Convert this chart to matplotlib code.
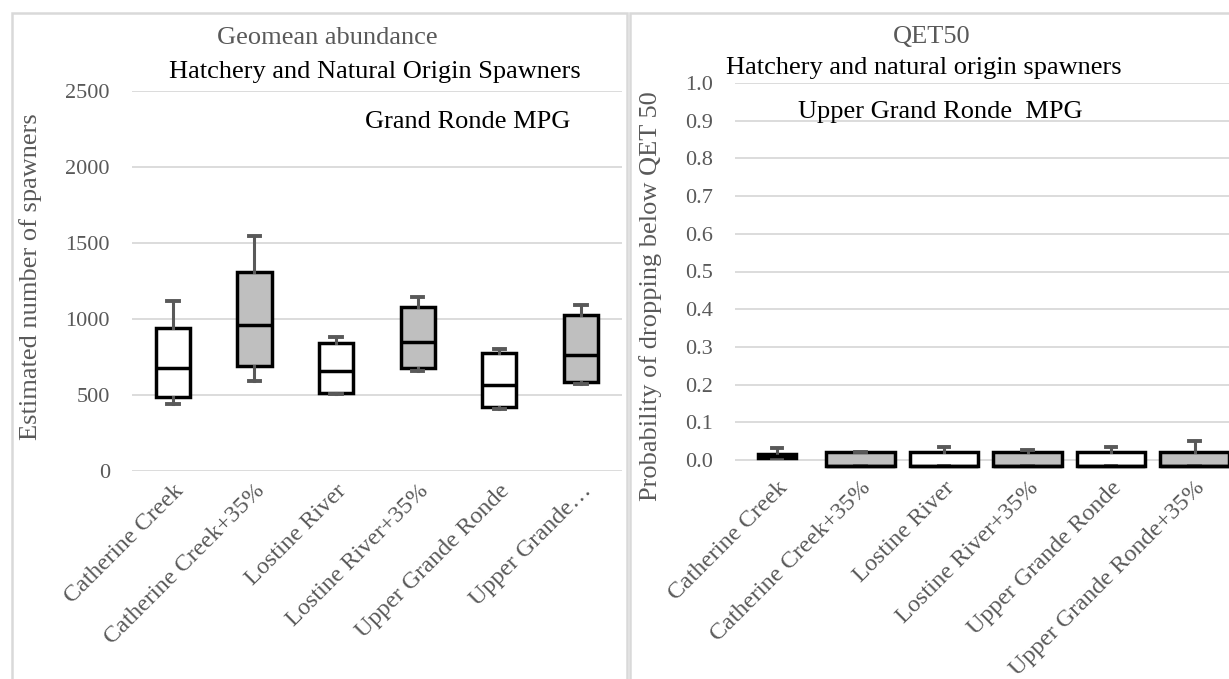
import matplotlib
matplotlib.use("Agg")
import matplotlib.pyplot as plt
from matplotlib.patches import Rectangle

# ---------------- data ----------------
categories = ["Catherine Creek", "Catherine Creek+35%", "Lostine River",
              "Lostine River+35%", "Upper Grande Ronde", "Upper Grande Ronde+35%"]
left_labels = ["Catherine Creek", "Catherine Creek+35%", "Lostine River",
               "Lostine River+35%", "Upper Grande Ronde", "Upper Grande\u2026"]

# Geomean abundance (estimated number of spawners)
abund_whislo = [443, 592, 507, 658, 406, 570]
abund_q1     = [489, 693, 515, 675, 423, 588]
abund_med    = [676, 961, 660, 847, 566, 763]
abund_q3     = [943, 1309, 840, 1077, 774, 1026]
abund_whishi = [1118, 1548, 884, 1143, 803, 1092]

# QET50 probability
qet_whislo = [0.005, -0.015, -0.015, -0.015, -0.015, -0.015]
qet_q1     = [0.005, -0.015, -0.015, -0.015, -0.015, -0.015]
qet_med    = [0.010, -0.015, -0.015, -0.015, -0.015, -0.015]
qet_q3     = [0.016, 0.022, 0.022, 0.022, 0.022, 0.022]
qet_whishi = [0.033, 0.022, 0.035, 0.027, 0.035, 0.051]

left_yticks = [0, 500, 1000, 1500, 2000, 2500]
right_yticks = [0.0, 0.1, 0.2, 0.3, 0.4, 0.5, 0.6, 0.7, 0.8, 0.9, 1.0]

# ---------------- style ----------------
W, H = 1229, 679
plt.rcParams['font.family'] = ['Liberation Serif', 'DejaVu Serif']
GRAY_TXT = '#595959'
GRID = '#d9d9d9'
fills = ['white', '#bfbfbf'] * 3
TITLE_FS = 19
TICK_FS = 16
XTICK_FS = 17.5

fig = plt.figure(figsize=(W / 100, H / 100), dpi=100)

def fx(px):
    return px / W

def fy(py):
    return 1 - py / H

# panel borders
fig.patches.append(Rectangle((fx(12), fy(700)), fx(627 - 12), (700 - 13) / H,
                             transform=fig.transFigure, fill=False,
                             edgecolor=GRID, linewidth=1.8))
fig.patches.append(Rectangle((fx(630), fy(700)), fx(700), (700 - 13) / H,
                             transform=fig.transFigure, fill=False,
                             edgecolor=GRID, linewidth=1.8))


def make_stats(lo, q1, med, q3, hi):
    return [dict(whislo=a, q1=b, med=c, q3=d, whishi=e)
            for a, b, c, d, e in zip(lo, q1, med, q3, hi)]


def style_axes(ax, yticks, fmt):
    for s in ax.spines.values():
        s.set_visible(False)
    ax.set_yticks(yticks)
    ax.set_yticklabels([fmt(v) for v in yticks], color=GRAY_TXT, fontsize=TICK_FS)
    ax.tick_params(axis='both', length=0)
    ax.grid(axis='y', color=GRID, linewidth=1.3)
    ax.set_axisbelow(True)


def draw_boxes(ax, stats, widths, capw):
    bp = ax.bxp(stats, positions=range(len(stats)), widths=widths,
                patch_artist=True, showfliers=False, manage_ticks=False,
                capwidths=capw,
                boxprops=dict(edgecolor='black', linewidth=2.5),
                medianprops=dict(color='black', linewidth=2.5),
                whiskerprops=dict(color=GRAY_TXT, linewidth=2.2),
                capprops=dict(color=GRAY_TXT, linewidth=2.8))
    for patch, c in zip(bp['boxes'], fills):
        patch.set_facecolor(c)
    for art in bp['boxes'] + bp['medians'] + bp['whiskers'] + bp['caps']:
        art.set_clip_on(False)
    return bp


# ---------------- left panel ----------------
l_left, l_right = 132, 621.7
axL = fig.add_axes([fx(l_left), fy(471), fx(l_right - l_left), (471 - 91) / H])
axL.set_ylim(0, 2500)
axL.set_xlim(-0.5, 5.5)
style_axes(axL, left_yticks, lambda v: f"{v:d}")
axL.tick_params(axis='y', pad=16)
draw_boxes(axL, make_stats(abund_whislo, abund_q1, abund_med, abund_q3, abund_whishi),
           [0.42] * 6, [0.14] * 6)
axL.set_xticks(range(6))
axL.set_xticklabels(left_labels, rotation=45, ha='right', va='top',
                    rotation_mode='anchor', color=GRAY_TXT, fontsize=XTICK_FS)
axL.tick_params(axis='x', pad=7)
axL.set_ylabel("Estimated number of spawners", color=GRAY_TXT, fontsize=TITLE_FS)
axL.yaxis.set_label_coords((42 - l_left) / (l_right - l_left), (471 - 276.5) / 380)

fig.text(fx(327.5), fy(38), "Geomean abundance", color=GRAY_TXT, fontsize=TITLE_FS,
         ha='center', va='center')
fig.text(fx(374.5), fy(72), "Hatchery and Natural Origin Spawners", color='black',
         fontsize=TITLE_FS, ha='center', va='center')
fig.text(fx(468), fy(122), "Grand Ronde MPG", color='black', fontsize=TITLE_FS,
         ha='center', va='center')

# ---------------- right panel ----------------
r_left, r_right = 735.4, 1229
y0, y1 = 460, 83.0
ppu = (y0 - y1) / 1.0
ymin = -0.02
bottom_px = y0 + (-ymin) * ppu
axR = fig.add_axes([fx(r_left), fy(bottom_px), fx(r_right - r_left), (bottom_px - y1) / H])
axR.set_ylim(ymin, 1.0)
c0, sp = 777, 83.5
axR.set_xlim((r_left - c0) / sp, (r_right - c0) / sp)
style_axes(axR, right_yticks, lambda v: f"{v:.1f}")
axR.tick_params(axis='y', pad=16)
draw_boxes(axR, make_stats(qet_whislo, qet_q1, qet_med, qet_q3, qet_whishi),
           [0.46] + [0.82] * 5, [0.13] * 6)
axR.set_xticks(range(6))
axR.set_xticklabels(categories, rotation=45, ha='right', va='top',
                    rotation_mode='anchor', color=GRAY_TXT, fontsize=XTICK_FS)
axR.tick_params(axis='x', pad=7)
axR.set_ylabel("Probability of dropping below QET 50", color=GRAY_TXT, fontsize=TITLE_FS)
axR.yaxis.set_label_coords((662 - r_left) / (r_right - r_left),
                           (bottom_px - 296) / (bottom_px - y1))

fig.text(fx(932), fy(37), "QET50", color=GRAY_TXT, fontsize=TITLE_FS,
         ha='center', va='center')
fig.text(fx(924), fy(68), "Hatchery and natural origin spawners", color='black',
         fontsize=TITLE_FS, ha='center', va='center')
fig.text(fx(940), fy(112), "Upper Grand Ronde  MPG", color='black', fontsize=TITLE_FS,
         ha='center', va='center')

fig.savefig("out.png", dpi=100)
